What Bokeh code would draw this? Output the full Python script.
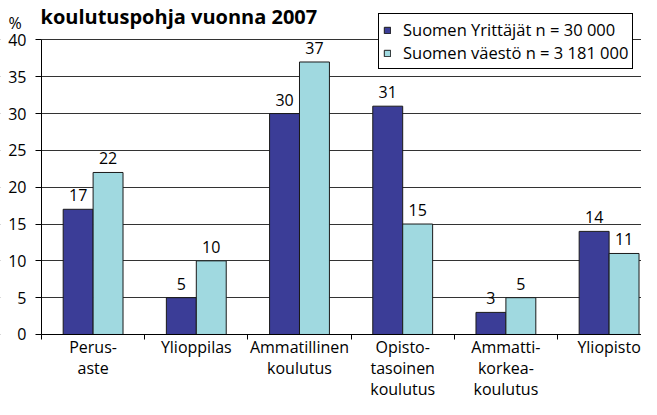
from bokeh.plotting import figure
from bokeh.models import (ColumnDataSource, Range1d, LinearAxis, FixedTicker,
                          Label, Legend, LegendItem, BoxAnnotation, Grid)
from bokeh.transform import dodge
from bokeh.core.properties import value
from bokeh.embed import file_html
from bokeh.resources import INLINE

# ---- data ----
categories = ["Perus-\naste", "Ylioppilas", "Ammatillinen\nkoulutus",
              "Opisto-\ntasoinen\nkoulutus", "Ammatti-\nkorkea-\nkoulutus", "Yliopisto"]
yrittajat = [17, 5, 30, 31, 3, 14]
vaesto = [22, 10, 37, 15, 5, 11]
series_names = ["Suomen Yrittäjät n = 30 000", "Suomen väestö n = 3 181 000"]
y_ticks = [0, 5, 10, 15, 20, 25, 30, 35, 40]
title_text = "koulutuspohja vuonna 2007"
unit_text = "%"

FONT = "Open Sans"
BLUE = "#3b3d97"
CYAN = "#a0d9e0"
EDGE = "#1a1a1a"
BAR_W = 0.29
Y_MAX = 40
X_LEFT = -0.5

idx = list(range(len(categories)))
source = ColumnDataSource(dict(
    x=idx, a=yrittajat, b=vaesto,
    la=[str(v) for v in yrittajat], lb=[str(v) for v in vaesto]))

p = figure(width=641, height=399, output_backend="svg", toolbar_location=None,
           x_range=Range1d(-0.8973, 5.314), y_range=Range1d(-8.826, 45.35),
           x_axis_location=None, y_axis_location=None,
           min_border_left=0, min_border_top=0, min_border_right=0,
           min_border_bottom=0)
p.outline_line_color = None
p.background_fill_color = "white"
p.border_fill_color = "white"
p.xgrid.visible = False
p.ygrid.visible = False

# horizontal grid lines
grid = Grid(dimension=1, ticker=FixedTicker(ticks=y_ticks),
            grid_line_color="#333333", grid_line_width=1)
p.add_layout(grid, "center")
# keep the grid from running left of the y axis
p.add_layout(BoxAnnotation(right=X_LEFT, fill_color="white", fill_alpha=1,
                           line_alpha=0, level="underlay"))

# y axis drawn at the left edge of the first category
yax = LinearAxis(
    fixed_location=X_LEFT, ticker=FixedTicker(ticks=y_ticks), bounds=(0, Y_MAX),
    major_tick_out=6, major_tick_in=0, minor_tick_out=0, minor_tick_in=0,
    axis_line_color="black", major_tick_line_color="black",
    major_label_standoff=9, major_label_text_font=FONT,
    major_label_text_font_size="16px", major_label_text_color="black")
p.add_layout(yax, "left")

# x axis at y = 0
xax = LinearAxis(
    fixed_location=0, bounds=(X_LEFT, len(categories) - 0.5),
    ticker=FixedTicker(ticks=idx,
                       minor_ticks=[i - 0.5 for i in range(len(categories) + 1)]),
    major_label_overrides={i: c for i, c in enumerate(categories)},
    major_tick_out=0, major_tick_in=0, minor_tick_out=5, minor_tick_in=0,
    axis_line_color="black", minor_tick_line_color="black",
    major_label_standoff=-3, major_label_text_font=FONT,
    major_label_text_font_size="16px", major_label_text_color="black",
    major_label_text_line_height=0.95)
p.add_layout(xax, "below")

# bars
r1 = p.vbar(x=dodge("x", -BAR_W / 2), top="a", width=BAR_W, source=source,
            fill_color=BLUE, line_color=EDGE, line_width=1)
r2 = p.vbar(x=dodge("x", BAR_W / 2), top="b", width=BAR_W, source=source,
            fill_color=CYAN, line_color=EDGE, line_width=1)

for col, lab, off in (("a", "la", -BAR_W / 2), ("b", "lb", BAR_W / 2)):
    p.text(x=dodge("x", off), y=col, text=lab, source=source,
           text_align="center", text_baseline="alphabetic", y_offset=-14,
           text_font=value(FONT), text_font_size="16px", text_color="black")

legend = Legend(items=[LegendItem(label=series_names[0], renderers=[r1]),
                       LegendItem(label=series_names[1], renderers=[r2])],
                location=(378, 330), orientation="vertical",
                border_line_color="black", border_line_width=1, border_line_alpha=1,
                background_fill_color="white", background_fill_alpha=1,
                padding=4, spacing=0, margin=0,
                glyph_width=8, glyph_height=8, label_height=22, label_standoff=12,
                label_text_font=FONT, label_text_font_size="16.5px",
                label_text_color="black")
p.add_layout(legend, "center")

# texts above the plot area
p.add_layout(Label(x=X_LEFT, y=Y_MAX, x_offset=-33, y_offset=17, text=unit_text,
                   text_font=FONT, text_font_size="16px", text_color="black",
                   text_baseline="alphabetic"))
p.add_layout(Label(x=X_LEFT, y=Y_MAX, x_offset=-1, y_offset=23, text=title_text,
                   text_font=FONT, text_font_size="20px", text_font_style="bold",
                   text_color="black", text_baseline="alphabetic"))

open("out.html", "w").write(file_html(p, INLINE))
